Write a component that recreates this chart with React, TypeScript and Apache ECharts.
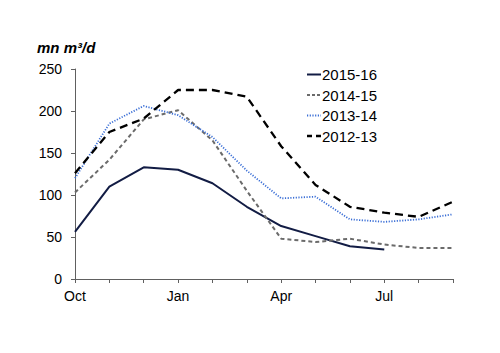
import React, { useEffect, useRef } from "react";
import * as echarts from "echarts";

const months = ["Oct", "Nov", "Dec", "Jan", "Feb", "Mar", "Apr", "May", "Jun", "Jul", "Aug", "Sep"];
const s2015_16 = [56, 110, 133, 130, 114, 86, 63, 51, 39, 35, null, null];
const s2014_15 = [103, 142, 190, 201, 165, 105, 48, 44, 48, 41, 37, 37];
const s2013_14 = [120, 185, 206, 195, 169, 129, 96, 98, 71, 68, 71, 77];
const s2012_13 = [126, 175, 191, 225, 225, 217, 158, 112, 86, 79, 74, 92];
const yTicks = [0, 50, 100, 150, 200, 250];
const seriesNames = ["2015-16", "2014-15", "2013-14", "2012-13"];

const FONT = "'Liberation Sans', Arial, Helvetica, sans-serif";

const styles = [
  { color: "#121c44", type: "solid" as any, width: 2 },
  { color: "#6b6b6b", type: [4, 3] as any, width: 2 },
  { color: "#3b6fd6", type: [1.2, 1.5] as any, width: 1.8 },
  { color: "#000000", type: [8, 5] as any, width: 2.3 },
];

export default function App() {
  const ref = useRef<HTMLDivElement>(null);
  useEffect(() => {
    if (!ref.current) return;
    const chart = echarts.init(ref.current, undefined, { renderer: "svg" });
    const datas = [s2015_16, s2014_15, s2013_14, s2012_13];
    const legendRows = [74.5, 95, 115.5, 136];
    const legendGraphics: any[] = [];
    seriesNames.forEach((name, i) => {
      const st = styles[i];
      legendGraphics.push({
        type: "line",
        shape: { x1: 307, y1: legendRows[i], x2: 321, y2: legendRows[i] },
        style: {
          stroke: st.color,
          lineWidth: st.width,
          lineDash: Array.isArray(st.type) ? (i === 3 ? [5, 4] : i === 1 ? [3, 2] : st.type) : null,
        },
      });
      legendGraphics.push({
        type: "text",
        x: 322,
        y: legendRows[i],
        style: {
          text: name,
          font: `15px ${FONT}`,
          fill: "#000",
          verticalAlign: "middle",
          align: "left",
        },
      });
    });
    chart.setOption({
      animation: false,
      textStyle: { fontFamily: FONT },
      grid: { left: 75, right: 47, top: 69, bottom: 74 },
      graphic: [
        {
          type: "text",
          x: 37,
          y: 47,
          style: {
            text: "mn m³/d",
            font: `italic bold 15px ${FONT}`,
            fill: "#000",
            verticalAlign: "middle",
          },
        },
        ...legendGraphics,
      ],
      xAxis: {
        type: "category",
        data: months,
        boundaryGap: false,
        axisLine: { lineStyle: { color: "#606060", width: 1 } },
        axisTick: { show: true, interval: 0, length: 4, lineStyle: { color: "#606060" } },
        axisLabel: { interval: 2, color: "#000", fontSize: 14, margin: 10, fontFamily: FONT },
        splitLine: { show: false },
      },
      yAxis: {
        type: "value",
        min: yTicks[0],
        max: yTicks[yTicks.length - 1],
        interval: 50,
        axisLine: { show: true, lineStyle: { color: "#606060", width: 1 } },
        axisTick: { show: true, length: 4, lineStyle: { color: "#606060" } },
        axisLabel: { color: "#000", fontSize: 14, margin: 13, fontFamily: FONT },
        splitLine: { show: false },
      },
      series: datas.map((d, i) => ({
        name: seriesNames[i],
        type: "line",
        data: d,
        symbol: "none",
        lineStyle: { color: styles[i].color, type: styles[i].type, width: styles[i].width },
        itemStyle: { color: styles[i].color },
      })),
    });
    return () => chart.dispose();
  }, []);
  return (
    <div
      ref={ref}
      style={{ position: "absolute", left: 0, top: 0, width: 500, height: 353 }}
    />
  );
}
